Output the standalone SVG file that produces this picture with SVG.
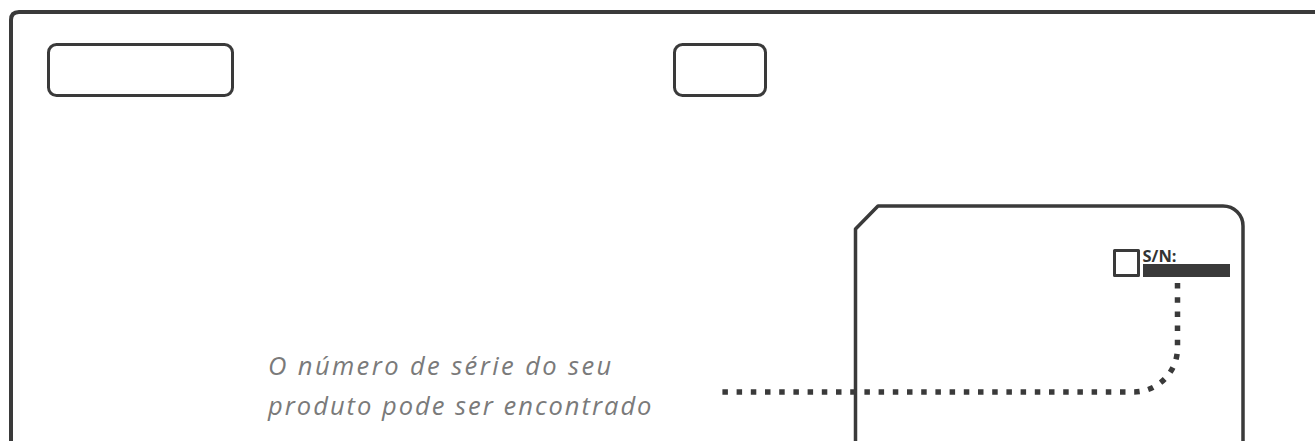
<svg xmlns="http://www.w3.org/2000/svg" width="1315" height="441" viewBox="0 0 1315 441">
<style>
.ln{fill:none;stroke:#3a3a3a;stroke-linejoin:round}
.cap{font-family:"Open Sans","DejaVu Sans",sans-serif;font-style:italic;font-size:25.5px;letter-spacing:2px;fill:#7a7a7a}
.sn{font-family:"Open Sans","DejaVu Sans",sans-serif;font-weight:bold;font-size:15.5px;fill:#333}
</style>
<rect width="1315" height="441" fill="#fff"/>
<g id="frame">
<path class="ln" stroke-width="4" d="M11 441 V20 Q11 12 19 12 H1315"/>
</g>
<g id="label-left">
<rect class="ln" stroke-width="3" x="48.5" y="44.5" width="184" height="51" rx="8"/>
</g>
<g id="label-mid">
<rect class="ln" stroke-width="3" x="674.5" y="44.5" width="91" height="51" rx="8"/>
</g>
<g id="device">
<path class="ln" stroke-width="3.5" d="M855.5 441 V229 L878 206 H1223 A20 20 0 0 1 1243 226 V441"/>
<rect class="ln" stroke-width="3" x="1114.5" y="250.5" width="24" height="25"/>
<rect x="1143" y="264" width="87" height="13" fill="#3a3a3a"/>
<text class="sn" x="1142.5" y="262" textLength="34" lengthAdjust="spacingAndGlyphs">S/N:</text>
</g>
<g id="connectors">
<path fill="none" stroke="#3a3a3a" stroke-width="5.5" stroke-dasharray="5.5 8.7" d="M1177.5 283 V348 A44 44 0 0 1 1133.5 392 H716"/>
</g>
<g id="caption">
<text class="cap" x="268" y="375" style="letter-spacing:2.4px">O número de série do seu</text>
<text class="cap" x="268" y="415">produto pode ser encontrado</text>
</g>
</svg>
